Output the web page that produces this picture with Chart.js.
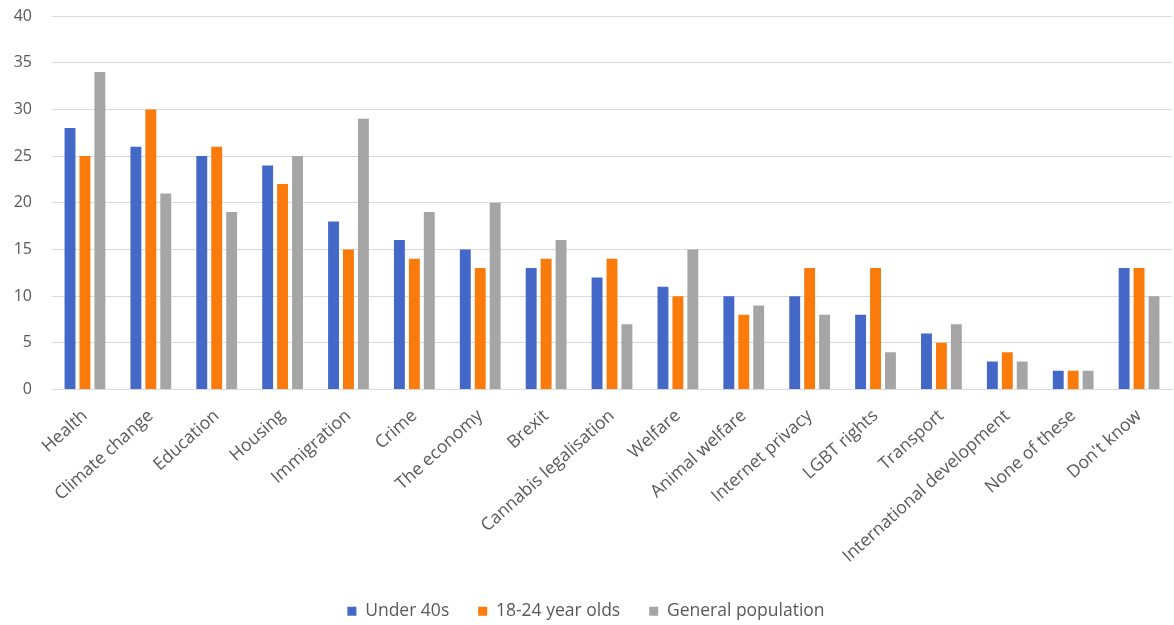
<!DOCTYPE html>
<html>
<head>
<meta charset="utf-8">
<script src="https://cdn.jsdelivr.net/npm/chart.js@4"></script>
<style>
html,body{margin:0;padding:0;background:#fff;}
#wrap{width:1174px;height:625px;position:relative;}
</style>
</head>
<body>
<div id="wrap"><canvas id="c"></canvas></div>
<script>
const categories = ["Health","Climate change","Education","Housing","Immigration","Crime","The economy","Brexit","Cannabis legalisation","Welfare","Animal welfare","Internet privacy","LGBT rights","Transport","International development","None of these","Don't know"];
const under40s = [28,26,25,24,18,16,15,13,12,11,10,10,8,6,3,2,13];
const age18to24 = [25,30,26,22,15,14,13,14,14,10,8,13,13,5,4,2,13];
const generalPopulation = [34,21,19,25,29,19,20,16,7,15,9,8,4,7,3,2,10];
const yTicks = [0,5,10,15,20,25,30,35,40];

const textColor = '#595959';
new Chart(document.getElementById('c'), {
  type: 'bar',
  data: {
    labels: categories,
    datasets: [
      {label: 'Under 40s', data: under40s, backgroundColor: '#4468C8'},
      {label: '18-24 year olds', data: age18to24, backgroundColor: '#FA7A0C'},
      {label: 'General population', data: generalPopulation, backgroundColor: '#A5A5A5'}
    ]
  },
  options: {
    responsive: true,
    maintainAspectRatio: false,
    animation: false,
    layout: {padding: {top: 0, right: 2, left: 0, bottom: -5}},
    datasets: {bar: {categoryPercentage: 0.68, barPercentage: 0.73}},
    plugins: {
      tooltip: {enabled: false},
      legend: {
        position: 'bottom',
        labels: {
          boxWidth: 9, boxHeight: 9, padding: 29,
          color: textColor,
          font: {family: 'Open Sans', size: 17.5}
        }
      }
    },
    scales: {
      x: {
        grid: {display: false},
        border: {color: '#D9D9D9'},
        ticks: {
          color: textColor, maxRotation: 42, minRotation: 42, autoSkip: false, padding: 8,
          font: {family: 'Open Sans', size: 17.5}
        },
        afterFit: (s) => { s.height = 184; s.paddingTop = 0; s.paddingLeft = 0; s.paddingRight = 0; }
      },
      y: {
        min: 0, max: 40,
        afterBuildTicks: (s) => { s.ticks = yTicks.map(v => ({value: v})); },
        grid: {color: '#D9D9D9', drawTicks: false},
        border: {display: false},
        ticks: {
          color: textColor, padding: 20,
          font: {family: 'Open Sans', size: 16}
        },
        afterFit: (s) => { s.width = 52; s.paddingTop = 16; s.paddingBottom = 0; }
      }
    }
  }
});
</script>
</body>
</html>
